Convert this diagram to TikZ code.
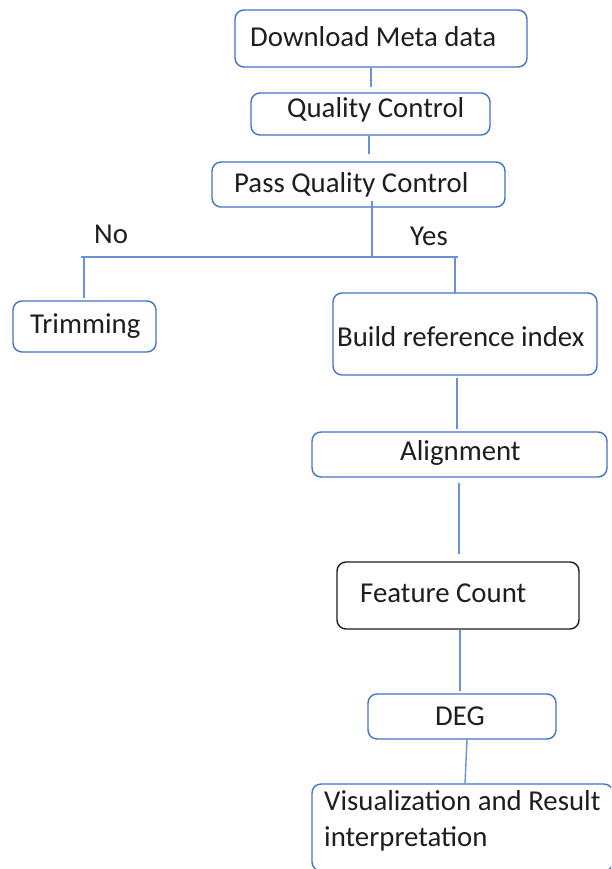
\documentclass[tikz,border=0pt]{standalone}
\usepackage{fontspec}
\setmainfont{Carlito}
\usetikzlibrary{calc}
\definecolor{boxblue}{HTML}{4472C4}
\definecolor{lineblue}{HTML}{6990D8}
\definecolor{txt}{HTML}{1E1E1E}
\begin{document}
\begin{tikzpicture}[x=1pt,y=-1pt,
  box/.style={draw=boxblue,line width=1.4pt,rounded corners=9pt,rectangle,inner sep=0pt},
  lbl/.style={anchor=base west,inner sep=0pt,text=txt,font=\fontsize{28.8}{34}\selectfont},
  conn/.style={draw=lineblue,line width=1.4pt}]
\useasboundingbox (0,0) rectangle (611,869);
\clip (0,0) rectangle (611,869);
\fill[white] (0,0) rectangle (611,869);
% boxes
\node[box,minimum width=292pt,minimum height=57pt] (dl) at (381,38.5) {};
\node[box,minimum width=239pt,minimum height=42pt] (qc) at (370.5,114) {};
\node[box,minimum width=293pt,minimum height=45pt] (pqc) at (358.5,184.5) {};
\node[box,minimum width=143pt,minimum height=51pt] (trim) at (84.5,326.5) {};
\node[box,minimum width=264pt,minimum height=82pt] (bri) at (465,334) {};
\node[box,minimum width=295pt,minimum height=45pt] (ali) at (459.5,454.5) {};
\node[box,draw=txt,minimum width=242pt,minimum height=67pt] (fc) at (458,595.5) {};
\node[box,minimum width=188pt,minimum height=45pt] (deg) at (462,716.5) {};
\node[box,minimum width=301pt,minimum height=87pt] (vis) at (462.5,827.5) {};
% labels
\node[lbl] (tdl) at (250,47) {Download Meta data};
\node[lbl] (tqc) at (287,118) {Quality Control};
\node[lbl] (tpqc) at (234,193) {Pass Quality Control};
\node[lbl] (tno) at (94,243) {No};
\node[lbl] (tyes) at (410,245) {Yes};
\node[lbl] (ttrim) at (30,333) {Trimming};
\node[lbl] (tbri) at (337,346) {Build reference index};
\node[lbl] (tali) at (400,460) {Alignment};
\node[lbl] (tfc) at (360,602) {Feature Count};
\node[lbl] (tdeg) at (435,725) {DEG};
\node[lbl] (tvis1) at (324,810) {Visualization and Result};
\node[lbl] (tvis2) at (324,846) {interpretation};
% junction
\coordinate (jl) at (81,257);
\coordinate (jr) at (458,257);
\coordinate (jc) at (372,258);
% connectors
\draw[conn] (dl.south -| 371,0) -- ($(qc.north -| 371,0)+(0,-5)$);
\draw[conn] (qc.south -| 369,0) -- ($(pqc.north -| 369,0)+(0,-7)$);
\draw[conn] ($(pqc.south -| jc)+(0,-7)$) -- (jc);
\draw[conn] (jl) -- (jr);
\draw[conn] (jl -| 84,0) -- ($(trim.north -| 84,0)+(0,-2)$);
\draw[conn] (jr -| 455,0) -- ($(bri.north -| 455,0)+(0,2)$);
\draw[conn] ($(bri.south -| 457,0)+(0,2)$) -- ($(ali.north -| 457,0)+(0,-2)$);
\draw[conn] ($(ali.south -| 459,0)+(0,5)$) -- ($(fc.north -| 459,0)+(0,-7)$);
\draw[conn] (fc.south -| 460,0) -- ($(deg.north -| 460,0)+(0,-2)$);
\draw[conn] (deg.south -| 467,0) -- (vis.north -| 465,0);
\end{tikzpicture}
\end{document}
